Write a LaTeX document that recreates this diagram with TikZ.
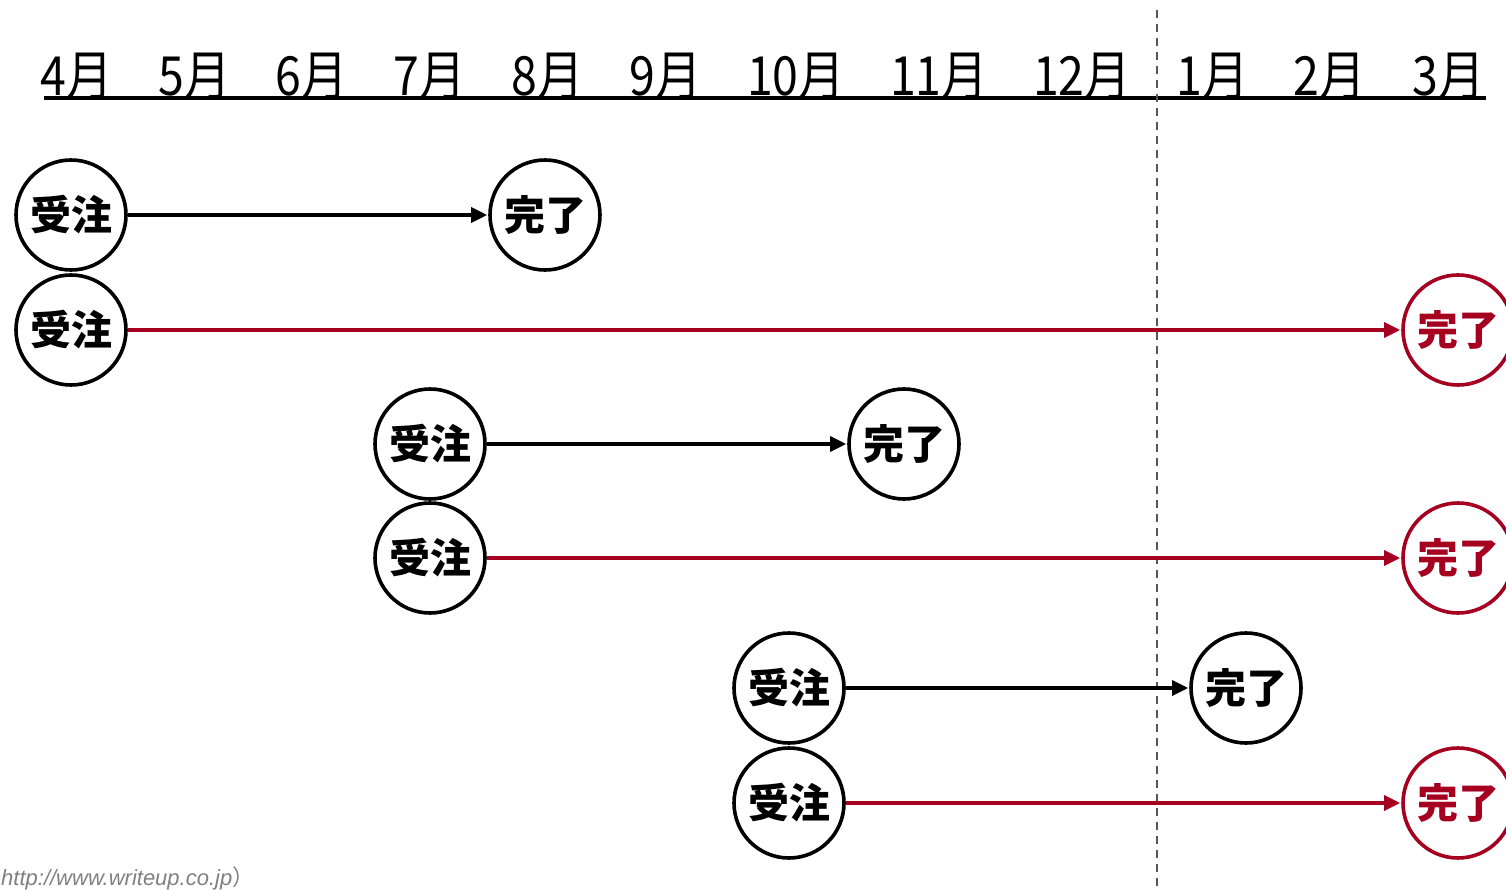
\documentclass[tikz,border=0pt]{standalone}
\usepackage{fontspec}
\usetikzlibrary{arrows.meta}
\newfontfamily\jp{Noto Sans CJK JP}
\newfontfamily\lat{Liberation Sans}
\definecolor{deepred}{RGB}{166,0,33}
\definecolor{dashgray}{RGB}{85,85,85}
\tikzset{
  month/.style={anchor=base, inner sep=0pt, xscale=0.86, transform shape, font=\jp\fontsize{54}{54}\selectfont},
  evt/.style={circle, draw, line width=3.6pt, minimum size=110pt, inner sep=0pt, font=\jp\bfseries\fontsize{41}{41}\selectfont},
  redevt/.style={evt, draw=deepred, text=deepred},
  flow/.style={line width=3.4pt, -{Triangle[length=16pt,width=15pt]}, shorten >=1pt},
  redflow/.style={flow, draw=deepred},
}
\begin{document}
\begin{tikzpicture}[x=1pt,y=-1pt]
\useasboundingbox (0,0) rectangle (1506,890);
% months
\foreach \m/\x [count=\i] in {4/77,5/195,6/312,7/430,8/548,9/666,10/796,11/939,12/1082,1/1213,2/1330,3/1449}{
  \node[month] (m\i) at (\x,96) {\m 月};
}
\coordinate (ul) at (44,98);
\coordinate (ur) at (1486,98);
\draw[line width=3.6pt] (ul) -- (ur);
% dashed year boundary
\coordinate (dt) at (1157,10);
\coordinate (db) at (1157,890);
\draw[dashgray, line width=1.8pt, dash pattern=on 8pt off 6pt] (dt) -- (db);
% rows
\node[evt] (a1) at (71,215) {受注};
\node[evt] (b1) at (545,215) {完了};
\node[evt] (a2) at (71,330) {受注};
\node[redevt] (b2) at (1458,330) {完了};
\node[evt] (a3) at (430,444) {受注};
\node[evt] (b3) at (904,444) {完了};
\node[evt] (a4) at (430,558) {受注};
\node[redevt] (b4) at (1458,558) {完了};
\node[evt] (a5) at (789,688) {受注};
\node[evt] (b5) at (1246,688) {完了};
\node[evt] (a6) at (789,803) {受注};
\node[redevt] (b6) at (1458,803) {完了};
\draw[flow] (a1) -- (b1);
\draw[redflow] (a2) -- (b2);
\draw[flow] (a3) -- (b3);
\draw[redflow] (a4) -- (b4);
\draw[flow] (a5) -- (b5);
\draw[redflow] (a6) -- (b6);
% source
\node[anchor=base west, inner sep=0pt, text=gray, font=\lat\itshape\fontsize{22}{22}\selectfont] (src) at (1,885) {http://www.writeup.co.jp{\jp ）}};
\end{tikzpicture}
\end{document}
